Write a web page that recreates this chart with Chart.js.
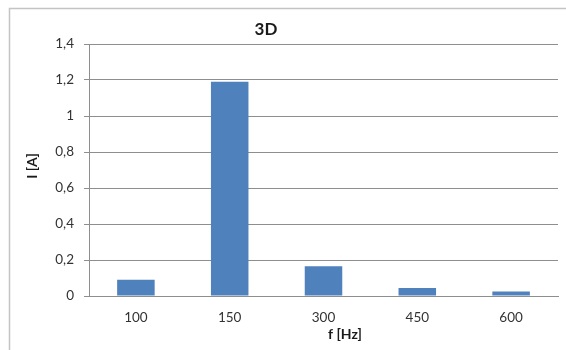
<!DOCTYPE html>
<html>
<head>
<meta charset="utf-8">
<script src="https://cdn.jsdelivr.net/npm/chart.js@4.4.1/dist/chart.umd.min.js"></script>
<style>
  html, body { margin: 0; padding: 0; background: #ffffff; }
  #wrap { width: 566px; height: 350px; position: relative; }
</style>
</head>
<body>
<div id="wrap"><canvas id="c" width="566" height="350"></canvas></div>
<script>
// Harmonic spectrum, case "3D"
const frequencies = ['100', '150', '300', '450', '600'];
const currents = [0.09, 1.19, 0.165, 0.045, 0.025];
const yTickStep = 0.2;
const yMax = 1.4;

const chartTitle = '3D';
const xTitle = 'f [Hz]';
const yTitle = 'I [A]';

const FONT = "Lato, 'Open Sans', 'Liberation Sans', sans-serif";
const TEXT = '#333333';
const GRID = '#8e8e8e';

function decimalComma(v) {
  if (Math.abs(v - Math.round(v)) < 1e-9) return String(Math.round(v));
  return v.toFixed(1).replace('.', ',');
}

// Frame line plus the title and axis captions
const captions = {
  id: 'captions',
  beforeDraw(chart) {
    const ctx = chart.ctx;
    ctx.save();
    ctx.fillStyle = '#ffffff';
    ctx.fillRect(0, 0, chart.width, chart.height);
    ctx.strokeStyle = '#c4c4c4';
    ctx.lineWidth = 1.5;
    ctx.beginPath();
    ctx.moveTo(9.5, chart.height);
    ctx.lineTo(9.5, 8.5);
    ctx.lineTo(chart.width, 8.5);
    ctx.stroke();
    ctx.restore();
  },
  afterDraw(chart) {
    const ctx = chart.ctx;
    const a = chart.chartArea;
    ctx.save();
    ctx.fillStyle = '#1a1a1a';
    ctx.textAlign = 'center';
    ctx.textBaseline = 'middle';
    ctx.font = "bold 17px " + FONT;
    ctx.fillText(chartTitle, 266, 30);
    ctx.font = "bold 14px " + FONT;
    ctx.fillText(xTitle, 345, 334);
    ctx.translate(32, (a.top + a.bottom) / 2 - 4);
    ctx.rotate(-Math.PI / 2);
    ctx.fillText(yTitle, 0, 0);
    ctx.restore();
  }
};

new Chart(document.getElementById('c'), {
  type: 'bar',
  data: {
    labels: frequencies,
    datasets: [{
      data: currents,
      backgroundColor: '#4f81bd',
      borderWidth: 0,
      barPercentage: 0.8,
      categoryPercentage: 0.5
    }]
  },
  options: {
    responsive: false,
    animation: false,
    devicePixelRatio: 1,
    layout: { padding: { left: 0, right: 8, top: 44, bottom: 0 } },
    plugins: {
      legend: { display: false },
      title: { display: false },
      tooltip: { enabled: false }
    },
    scales: {
      x: {
        grid: { display: false, drawTicks: false },
        border: { display: true, color: GRID, width: 1 },
        ticks: {
          color: TEXT,
          font: { family: FONT, size: 13.5 },
          padding: 14,
          maxRotation: 0
        },
        afterFit(scale) { scale.height = 54; }
      },
      y: {
        min: 0,
        max: yMax,
        grid: { color: GRID, lineWidth: 1, drawTicks: true, tickLength: 5 },
        border: { display: true, color: GRID, width: 1 },
        ticks: {
          stepSize: yTickStep,
          color: TEXT,
          font: { family: FONT, size: 13.5 },
          padding: 10,
          callback: (v) => decimalComma(v)
        },
        afterFit(scale) { scale.width = 89; }
      }
    }
  },
  plugins: [captions]
});
</script>
</body>
</html>
